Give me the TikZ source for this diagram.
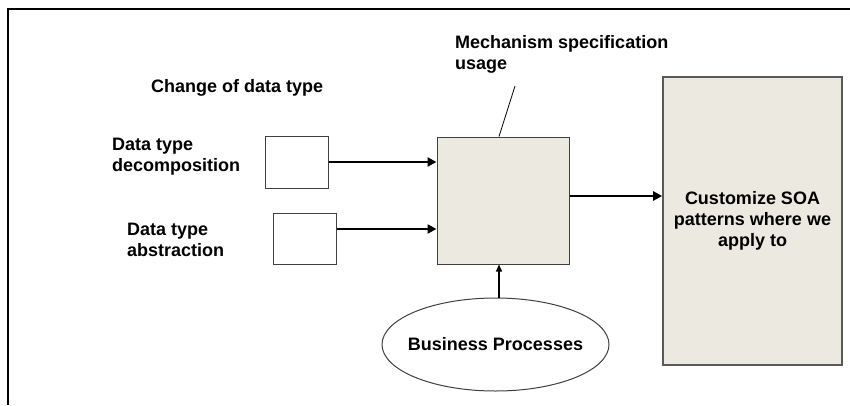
\documentclass[tikz,border=0pt]{standalone}
\usepackage{fontspec}
\setmainfont{Liberation Sans}
\usetikzlibrary{arrows.meta,shapes.geometric}
\definecolor{boxfill}{RGB}{236,233,224}
\definecolor{edge}{RGB}{64,64,64}
\tikzset{
  lbl/.style={font=\bfseries\fontsize{18}{21}\selectfont, inner sep=0pt, align=left},
  whitebox/.style={draw=edge, line width=1pt, fill=white, minimum width=63pt, minimum height=52pt, inner sep=0pt},
  beigebox/.style={draw=edge, line width=1pt, fill=boxfill, inner sep=0pt},
  bigarrow/.style={line width=2.8pt, -{Triangle[length=9pt,width=9pt]}},
  thinarrow/.style={line width=1.2pt, -{Triangle[length=7pt,width=6pt]}},
}
\begin{document}
\begin{tikzpicture}[x=1pt,y=-1pt]
\useasboundingbox (0,0) rectangle (850,405);
% frame
\draw[line width=1.2pt] (8,405) -- (8,9) -- (850,9);

% boxes
\node[whitebox] (b1) at (296.5,162) {};
\node[whitebox, minimum height=51pt] (b2) at (304.5,238.5) {};
\node[beigebox, minimum width=132pt, minimum height=127pt] (mid) at (503,200.5) {};
\node[beigebox, draw=gray!70!black, line width=1.6pt, minimum width=179pt, minimum height=288pt,
      font=\bfseries\fontsize{18}{21}\selectfont, align=center] (soa) at (752.5,221)
      {Customize SOA\\patterns where we\\apply to};
\node[ellipse, draw=edge, line width=1pt, fill=white, minimum width=227pt, minimum height=93pt,
      inner sep=0pt, label={[font=\bfseries\fontsize{18}{21}\selectfont, inner sep=0pt]center:Business Processes}] (bp) at (495.5,344.5) {};

% labels
\node[lbl, anchor=base west] (chg) at (151,92) {Change of data type};
\node[lbl, anchor=north west] (dec) at (112,138.1) {Data type\\decomposition};
\node[lbl, anchor=north west] (abs) at (127,223.1) {Data type\\abstraction};
\node[lbl, anchor=north west] (mech) at (455,35.1) {Mechanism specification\\usage};

% connectors
\draw[bigarrow] (b1.east) -- (b1.east -| mid.west);
\draw[bigarrow] ([yshift=9.5pt]b2.east) -- ([yshift=9.5pt]b2.east -| mid.west);
\draw[bigarrow] ([yshift=4.5pt]mid.east) -- ([yshift=4.5pt]mid.east -| soa.west);
\coordinate (bptop) at (499,298);
\draw[thinarrow] (bptop) -- (bptop |- mid.south);
\coordinate (mechend) at (515,86);
\draw[line width=0.8pt] (mid.north -| 499,0) -- (mechend);
\end{tikzpicture}
\end{document}
